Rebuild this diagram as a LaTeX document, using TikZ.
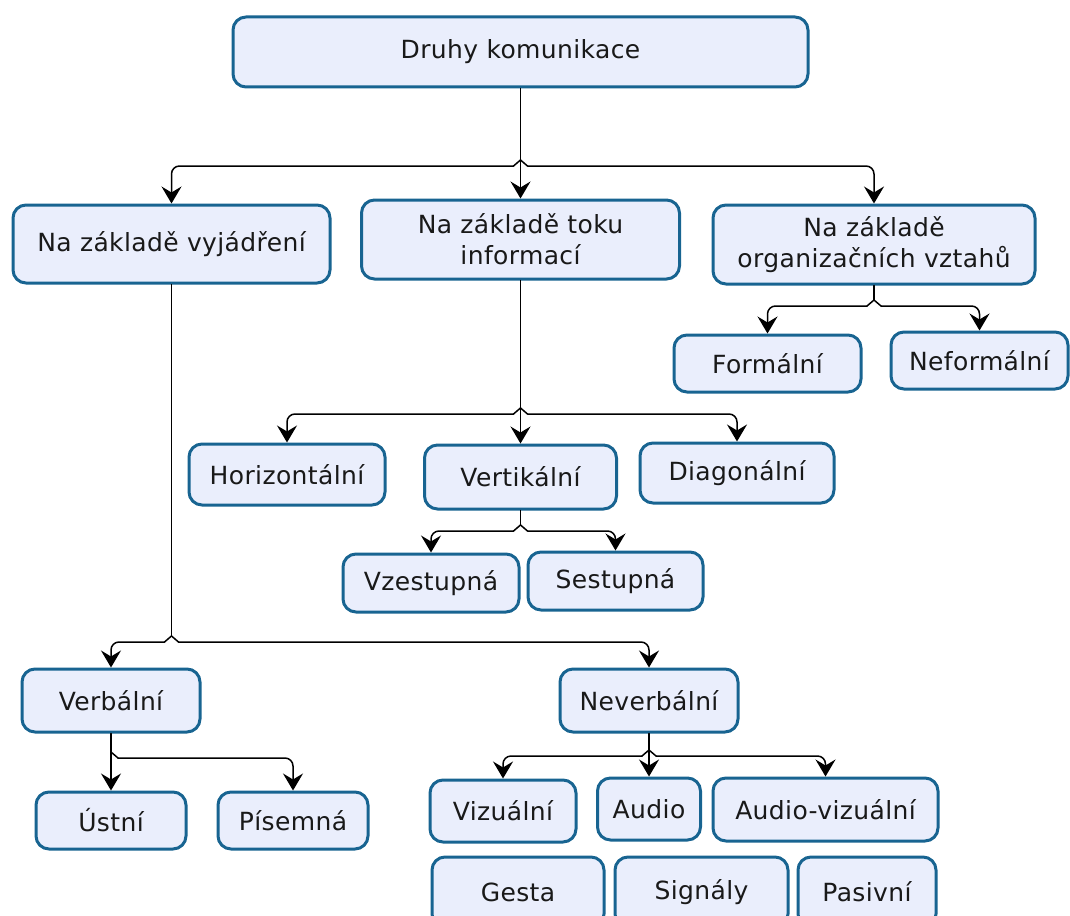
\documentclass[tikz,border=0pt]{standalone}
\usepackage{fontspec}
\setmainfont[LetterSpace=1.5]{DejaVu Sans}
\usetikzlibrary{arrows.meta,calc}
\definecolor{boxfill}{RGB}{234,238,252}
\definecolor{boxline}{RGB}{24,100,145}
\definecolor{txt}{RGB}{25,25,25}
\tikzset{
  box/.style={draw=boxline, fill=boxfill, line width=3pt, rounded corners=13pt,
    text=txt, font=\fontsize{25}{31}\selectfont, align=center, inner sep=0pt},
  conn/.style={draw=black, line width=1.5pt, line cap=round, line join=round},
  tipped/.style={conn, -{Stealth[length=17pt, width=20pt, inset=6pt]}},
}
\newcommand{\bx}[6]{\node[box, minimum width=#4pt, minimum height=#5pt] (#1) at (#2,#3) {#6};}
\begin{document}
\begin{tikzpicture}[x=1pt,y=-1pt]
\useasboundingbox (0,0) rectangle (1070,915);
\clip (0,0) rectangle (1070,915);
% nodes
\bx{top}{520.5}{52}{575}{70}{Druhy komunikace}
\bx{vyj}{171.5}{244}{317}{78}{Na základě vyjádření}
\bx{toku}{520.5}{239.5}{318}{79}{Na základě toku\\informací}
\bx{org}{874}{244.5}{322}{79}{Na základě\\organizačních vztahů}
\bx{form}{767.5}{363.5}{187}{57}{Formální}
\bx{neform}{979.5}{360.5}{177}{57}{Neformální}
\bx{hor}{287}{474.5}{196}{61}{Horizontální}
\bx{ver}{520.5}{477}{192}{64}{Vertikální}
\bx{dia}{737}{473}{194}{60}{Diagonální}
\bx{vze}{431}{583}{176}{58}{Vzestupná}
\bx{ses}{615.5}{581}{175}{58}{Sestupná}
\bx{verb}{111}{700.5}{178}{63}{Verbální}
\bx{never}{649}{700.5}{178}{63}{Neverbální}
\bx{ust}{111}{820.5}{150}{57}{Ústní}
\bx{pis}{293}{820.5}{150}{57}{Písemná}
\bx{viz}{503}{811}{146}{62}{Vizuální}
\bx{aud}{649}{809}{103}{62}{Audio}
\bx{audviz}{825.5}{809.5}{225}{63}{Audio-vizuální}
\bx{gest}{518}{892}{172}{70}{Gesta}
\bx{sig}{701.5}{892}{173}{70}{Signály}
\bx{pas}{867}{892}{138}{70}{Pasivní}
% junctions
\coordinate (j1) at (520.5,166);
\coordinate (j2) at (520.5,414);
\coordinate (j3) at (874,306);
\coordinate (j4) at (171.5,642);
\coordinate (j5) at (520.5,531);
\coordinate (j6) at (111,758);
\coordinate (j7) at (649,756);
% group 1
\draw[tipped] (top.south) -- (toku.north);
\draw[conn] ($(j1)+(0,-6)$) -- ($(j1)+(-7,0)$);
\draw[tipped, rounded corners=8pt] ($(j1)+(-7,0)$) -- (vyj.north |- j1) -- (vyj.north);
\draw[conn] ($(j1)+(0,-6)$) -- ($(j1)+(7,0)$);
\draw[tipped, rounded corners=8pt] ($(j1)+(7,0)$) -- (org.north |- j1) -- (org.north);
% group 2
\draw[tipped] (toku.south) -- (ver.north);
\draw[conn] ($(j2)+(0,-6)$) -- ($(j2)+(-7,0)$);
\draw[tipped, rounded corners=8pt] ($(j2)+(-7,0)$) -- (hor.north |- j2) -- (hor.north);
\draw[conn] ($(j2)+(0,-6)$) -- ($(j2)+(7,0)$);
\draw[tipped, rounded corners=8pt] ($(j2)+(7,0)$) -- (dia.north |- j2) -- (dia.north);
% group 3
\draw[conn] (org.south) -- ($(j3)+(0,-6)$);
\draw[conn] ($(j3)+(0,-6)$) -- ($(j3)+(-7,0)$);
\draw[tipped, rounded corners=8pt] ($(j3)+(-7,0)$) -- (form.north |- j3) -- (form.north);
\draw[conn] ($(j3)+(0,-6)$) -- ($(j3)+(7,0)$);
\draw[tipped, rounded corners=8pt] ($(j3)+(7,0)$) -- (neform.north |- j3) -- (neform.north);
% group 4
\draw[conn] (vyj.south) -- ($(j4)+(0,-6)$);
\draw[conn] ($(j4)+(0,-6)$) -- ($(j4)+(-7,0)$);
\draw[tipped, rounded corners=8pt] ($(j4)+(-7,0)$) -- (verb.north |- j4) -- (verb.north);
\draw[conn] ($(j4)+(0,-6)$) -- ($(j4)+(7,0)$);
\draw[tipped, rounded corners=8pt] ($(j4)+(7,0)$) -- (never.north |- j4) -- (never.north);
% group 5
\draw[conn] (ver.south) -- ($(j5)+(0,-6)$);
\draw[conn] ($(j5)+(0,-6)$) -- ($(j5)+(-7,0)$);
\draw[tipped, rounded corners=8pt] ($(j5)+(-7,0)$) -- (vze.north |- j5) -- (vze.north);
\draw[conn] ($(j5)+(0,-6)$) -- ($(j5)+(7,0)$);
\draw[tipped, rounded corners=8pt] ($(j5)+(7,0)$) -- (ses.north |- j5) -- (ses.north);
% group 6
\draw[tipped] (verb.south) -- (ust.north);
\draw[conn] ($(j6)+(0,-6)$) -- ($(j6)+(7,0)$);
\draw[tipped, rounded corners=8pt] ($(j6)+(7,0)$) -- (pis.north |- j6) -- (pis.north);
% group 7
\draw[tipped] (never.south) -- (aud.north);
\draw[conn] ($(j7)+(0,-6)$) -- ($(j7)+(-7,0)$);
\draw[tipped, rounded corners=8pt] ($(j7)+(-7,0)$) -- (viz.north |- j7) -- (viz.north);
\draw[conn] ($(j7)+(0,-6)$) -- ($(j7)+(7,0)$);
\draw[tipped, rounded corners=8pt] ($(j7)+(7,0)$) -- (audviz.north |- j7) -- (audviz.north);
\end{tikzpicture}
\end{document}
